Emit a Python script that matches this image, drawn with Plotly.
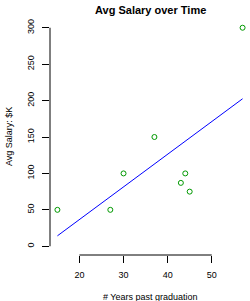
import numpy as np
import plotly.graph_objects as go

years = [15, 27, 30, 37, 43, 44, 45, 57]
salary = [50, 50, 100, 150, 87, 100, 75, 300]
x_ticks = [20, 30, 40, 50]
y_ticks = [0, 50, 100, 150, 200, 250, 300]

slope, intercept = np.polyfit(years, salary, 1)
fit_x = [min(years), max(years)]
fit_y = [slope * v + intercept for v in fit_x]

FONT = "Liberation Sans, Arial, sans-serif"

fig = go.Figure()
fig.add_trace(go.Scatter(x=years, y=salary, mode="markers",
                         marker=dict(symbol="circle-open", size=5, color="#009900",
                                     line=dict(width=1, color="#009900")),
                         showlegend=False, hoverinfo="skip"))
fig.add_trace(go.Scatter(x=fit_x, y=fit_y, mode="lines",
                         line=dict(color="#0000ff", width=1),
                         showlegend=False, hoverinfo="skip"))

# R-style axis lines spanning only the tick range
fig.add_shape(type="line", xref="x", yref="paper", x0=x_ticks[0], x1=x_ticks[-1], y0=0, y1=0,
              line=dict(color="black", width=1))
fig.add_shape(type="line", xref="paper", yref="y", x0=0, x1=0, y0=y_ticks[0], y1=y_ticks[-1],
              line=dict(color="black", width=1))

fig.update_layout(
    width=250, height=301,
    margin=dict(l=50, r=0, t=19, b=46),
    paper_bgcolor="white", plot_bgcolor="white",
    font=dict(family=FONT, size=9, color="black"),
    xaxis=dict(range=[13.32, 58.68], tickvals=x_ticks, ticks="outside", ticklen=7,
               tickcolor="black", tickwidth=1, showgrid=False, zeroline=False, showline=False,
               ticklabelstandoff=4, tickfont=dict(size=9)),
    yaxis=dict(range=[-12, 312], tickvals=y_ticks, ticks="outside", ticklen=7,
               tickcolor="black", tickwidth=1, showgrid=False, zeroline=False, showline=False,
               tickangle=-90, ticklabelstandoff=4, tickfont=dict(size=9)),
    annotations=[
        dict(text="<b>Avg Salary over Time</b>", xref="paper", yref="paper", x=0.5, y=1,
             yshift=9, xanchor="center", yanchor="middle", showarrow=False,
             font=dict(size=11, family=FONT)),
        dict(text="# Years past graduation", xref="paper", yref="paper", x=0.5, y=0,
             yshift=-42, xanchor="center", yanchor="middle", showarrow=False,
             font=dict(size=9, family=FONT)),
        dict(text="Avg Salary: $K", xref="paper", yref="paper", x=0, y=0.5,
             xshift=-41, xanchor="center", yanchor="middle", showarrow=False, textangle=-90,
             font=dict(size=9, family=FONT)),
    ],
)

fig.write_html("out.html")
